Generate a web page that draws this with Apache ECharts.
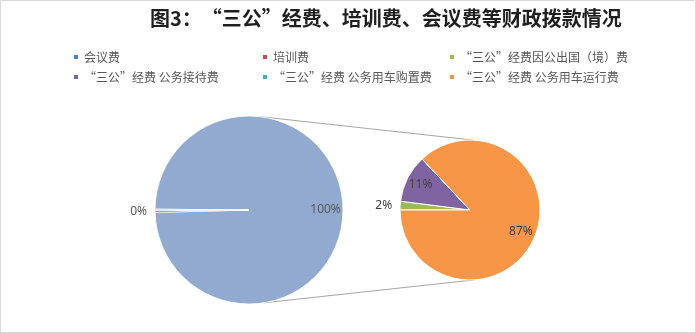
<!DOCTYPE html>
<html><head><meta charset="utf-8">
<script src="https://cdn.jsdelivr.net/npm/echarts@6/dist/echarts.min.js"></script>
<style>html,body{margin:0;padding:0;background:#fff}#c{width:696px;height:333px}</style>
</head><body><div id="c"></div>
<script>
const titleText = '图3：“三公”经费、培训费、会议费等财政拨款情况';
// primary pie (left)
const primaryNames = ['会议费', '培训费', '其他'];
const primaryColors = ['#92aacf', '#c0504d', '#92aacf'];
const primaryLegendColors = ['#4f81bd', '#c0504d', '#4f81bd'];
const meetingValue = 400;
const trainingValue = 1.2;
// secondary pie (right)
const secondaryNames = ['“三公”经费因公出国（境）费', '“三公”经费 公务接待费', '“三公”经费 公务用车购置费', '“三公”经费 公务用车运行费'];
const secondaryValues = [0.02, 0.11, 0, 0.87];
const secondaryColors = ['#9bbb59', '#8064a2', '#4bacc6', '#f79646'];
const otherValue = secondaryValues.reduce((a, b) => a + b, 0);
const primaryValues = [meetingValue, trainingValue, otherValue];

const L = { cx: 249, cy: 210, r: 94 };
const R = { cx: 470, cy: 210, r: 70 };

const chart = echarts.init(document.getElementById('c'), null, { renderer: 'canvas' });

const labelBase = { fontFamily: 'Noto Sans', fontSize: 12 };

const leftLabelData = primaryNames.map((n, i) => ({
  name: n, value: primaryValues[i],
  label: i === 0 ? { position: 'inside', color: '#595959' } : { position: 'outside', color: '#595959' }
}));
const rightLabelData = secondaryNames.map((n, i) => {
  const v = secondaryValues[i];
  let label;
  if (v === 0) label = { show: false };
  else if (i === 0) label = { position: 'outside', color: '#404040' };
  else label = { position: 'inside', color: '#404040' };
  return { name: n, value: v, label };
});

function pt(c, deg) {
  const a = deg * Math.PI / 180;
  return [c.cx + c.r * Math.cos(a), c.cy - c.r * Math.sin(a)];
}
const lt = pt(L, 83), lb = pt(L, -81), rt = pt(R, 88), rb = pt(R, -86);

const legendFont = { fontFamily: 'Noto Sans CJK SC', fontSize: 12, color: '#595959' };
const legendColorMap = {};
primaryNames.forEach((n, i) => legendColorMap[n] = primaryLegendColors[i]);
secondaryNames.forEach((n, i) => legendColorMap[n] = secondaryColors[i]);

function mkLegend(left, names) {
  return {
    orient: 'vertical', left: left, top: 51, padding: 0, itemGap: 8,
    itemWidth: 6, itemHeight: 6, icon: 'rect', selectedMode: false,
    textStyle: Object.assign({
      rich: {
        q: Object.assign({ width: 12, align: 'right' }, legendFont),
        p: Object.assign({ width: 12, align: 'left' }, legendFont)
      }
    }, legendFont),
    formatter: (name) => name.replace(/“/g, '{q|“}').replace(/”/g, '{p|”}'),
    data: names.map(n => ({ name: n, itemStyle: { color: legendColorMap[n] } }))
  };
}

chart.setOption({
  animation: false,
  backgroundColor: '#fff',
  title: {
    text: titleText, left: 150, top: 8, padding: 0,
    textStyle: { fontFamily: 'Noto Sans CJK SC', fontSize: 20, fontWeight: 'bold', color: '#1f1f1f' }
  },
  legend: [
    mkLegend(72, [primaryNames[0], secondaryNames[1]]),
    mkLegend(261, [primaryNames[1], secondaryNames[2]]),
    mkLegend(448, [secondaryNames[0], secondaryNames[3]])
  ],
  graphic: [
    { type: 'rect', shape: { x: 0.5, y: 0.5, width: 695, height: 332 }, style: { fill: 'none', stroke: '#d9d9d9', lineWidth: 1 }, silent: true },
    { type: 'line', shape: { x1: lt[0], y1: lt[1], x2: rt[0], y2: rt[1] }, style: { stroke: '#a6a6a6', lineWidth: 1 }, silent: true },
    { type: 'line', shape: { x1: lb[0], y1: lb[1], x2: rb[0], y2: rb[1] }, style: { stroke: '#a6a6a6', lineWidth: 1 }, silent: true }
  ],
  series: [
    {
      type: 'pie', center: [L.cx, L.cy], radius: L.r, startAngle: 179.5, clockwise: true,
      silent: true, label: { show: false }, labelLine: { show: false },
      itemStyle: { borderColor: '#fff', borderWidth: 0.8 },
      data: primaryNames.map((n, i) => ({ name: n, value: primaryValues[i], itemStyle: { color: primaryColors[i] } }))
    },
    {
      type: 'pie', center: [R.cx, R.cy], radius: R.r, startAngle: 180, clockwise: true,
      silent: true, label: { show: false }, labelLine: { show: false },
      itemStyle: { borderColor: '#fff', borderWidth: 1 },
      data: secondaryNames.map((n, i) => ({ name: n, value: secondaryValues[i], itemStyle: { color: secondaryColors[i] } }))
    },
    {
      type: 'pie', center: [L.cx, L.cy], radius: [L.r * 0.565, L.r], startAngle: 179.5, clockwise: true,
      silent: true, avoidLabelOverlap: false, percentPrecision: 0,
      itemStyle: { color: 'rgba(0,0,0,0)', borderWidth: 0 },
      label: Object.assign({ formatter: '{d}%' }, labelBase),
      labelLine: { show: false, length: 3, length2: 0 },
      data: leftLabelData
    },
    {
      type: 'pie', center: [R.cx, R.cy], radius: [R.r * 0.5, R.r], startAngle: 180, clockwise: true,
      silent: true, avoidLabelOverlap: false, percentPrecision: 0,
      itemStyle: { color: 'rgba(0,0,0,0)', borderWidth: 0 },
      label: Object.assign({ formatter: '{d}%' }, labelBase),
      labelLine: { show: false, length: 3, length2: 0 },
      data: rightLabelData
    }
  ]
});
</script></body></html>
